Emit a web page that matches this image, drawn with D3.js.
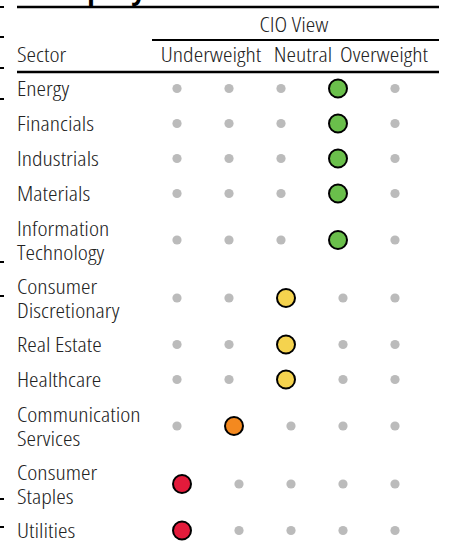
<!DOCTYPE html>
<html>
<head>
<meta charset="utf-8">
<script src="https://cdn.jsdelivr.net/npm/d3@7"></script>
<style>
  body { margin: 0; background: #fff; }
  svg { display: block; }
  text { font-family: "Open Sans", "Lato", sans-serif; font-weight: 300; font-stretch: 75%; fill: #222; }
</style>
</head>
<body>
<div id="chart"></div>
<script>
// sectors, split into label lines as in the table
const sectors = [
    ["Energy"],
    ["Financials"],
    ["Industrials"],
    ["Materials"],
    ["Information", "Technology"],
    ["Consumer", "Discretionary"],
    ["Real Estate"],
    ["Healthcare"],
    ["Communication", "Services"],
    ["Consumer", "Staples"],
    ["Utilities"]
];
// CIO view per sector: 0 = most underweight ... 4 = most overweight
const views = [3, 3, 3, 3, 3, 2, 2, 2, 1, 0, 0];
const viewLabels = ["Underweight", "Neutral", "Overweight"];
const viewColors = ["#e31b3b", "#f4891f", "#f5d34e", "#6abf4b", "#2e8540"];
const nCols = 5;
// tick marks of the neighbouring panel, left edge
const leftTicks = [7, 37, 68, 99, 262, 296, 499, 527];

const width = 451, height = 546;

const svg = d3.select('#chart').append('svg')
    .attr('width', width)
    .attr('height', height);

// the reference face is a light condensed one; squeeze ours to the same widths
let widthRef = { "Sector": 49, "Underweight": 98, "Neutral": 62, "Overweight": 88,
                 "CIO View": 72, "Communication": 123, "Discretionary": 101, "Information": 91 };
let probe = svg.append('g');
let measured = 0, wanted = 0;
Object.keys(widthRef).forEach(function(s) {
    let t = probe.append('text').style('font-size', '20px').text(s);
    measured += t.node().getComputedTextLength();
    wanted += widthRef[s];
});
probe.remove();
const k = wanted / measured;

function label(parent, s, x, yy, anchor) {
    return parent.append('text')
        .attr('transform', 'translate(' + x + ',' + yy + ') scale(' + k + ',1)')
        .attr('text-anchor', anchor || 'start')
        .style('font-size', '20px')
        .text(s);
}

// title, mostly cut off above the frame
svg.append('text')
    .attr('x', 64)
    .attr('y', 0)
    .style('font-size', '26px')
    .style('font-weight', 'bold')
    .style('font-stretch', '100%')
    .style('fill', '#000')
    .text('Equity');

svg.selectAll('.ltick').data(leftTicks).enter()
    .append('line')
    .attr('class', 'ltick')
    .attr('x1', 0).attr('x2', 4)
    .attr('y1', d => d).attr('y2', d => d)
    .attr('stroke', '#000')
    .attr('stroke-width', 2);

// rules
svg.append('line').attr('x1', 17).attr('x2', 439).attr('y1', 7).attr('y2', 7)
    .attr('stroke', '#000').attr('stroke-width', 2.6);
svg.append('line').attr('x1', 152).attr('x2', 439).attr('y1', 40).attr('y2', 40)
    .attr('stroke', '#000').attr('stroke-width', 2);
svg.append('line').attr('x1', 17).attr('x2', 439).attr('y1', 72).attr('y2', 72)
    .attr('stroke', '#000').attr('stroke-width', 2.4);

// headers
label(svg, 'CIO View', 294, 32, 'middle');
label(svg, 'Sector', 17, 62);
const headerX = [211, 303, 384];
viewLabels.forEach((d, i) => label(svg, d, headerX[i], 62, 'middle'));

// rows: height grows with number of label lines
const rowH = l => 35 + (l.length - 1) * 23;
let acc = 0;
const rows = sectors.map((s, i) => {
    let r = { lines: s, view: views[i], top: acc, h: rowH(s) };
    acc += r.h;
    return r;
});
const y = d3.scaleLinear().domain([0, acc]).range([71, 71 + acc]);

// dots are laid out right to left; the big circle takes a wider slot
const bigSlot = 62 / 52;
const x = d3.scaleLinear().domain([0, 1]).range([421, 369]);

const g = svg.selectAll('.row').data(rows).enter()
    .append('g')
    .attr('class', 'row')
    .attr('transform', d => 'translate(0,' + y(d.top + d.h / 2) + ')');

g.each(function(d) {
    let row = d3.select(this);
    d.lines.forEach(function(t, i) {
        label(row, t, 17, d.lines.length == 1 ? 7 : -4.5 + i * 24);
    });

    let cells = [];
    let u = 0;
    for (let c = nCols - 1; c >= 0; c--) {
        let w = c == d.view ? bigSlot : 1;
        cells.push({ col: c, big: c == d.view, cx: x(u + w / 2) });
        u += w;
    }
    row.selectAll('circle').data(cells).enter()
        .append('circle')
        .attr('cx', c => c.cx)
        .attr('cy', 0)
        .attr('r', c => c.big ? 9 : 4.6)
        .attr('fill', c => c.big ? viewColors[c.col] : '#bbbbbb')
        .attr('stroke', c => c.big ? '#000' : 'none')
        .attr('stroke-width', 2);
});
</script>
</body>
</html>
